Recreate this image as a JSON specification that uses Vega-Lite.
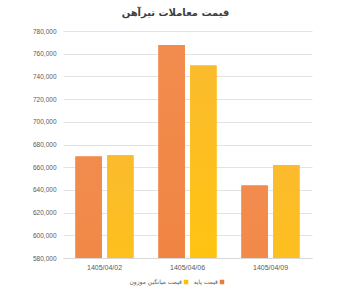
{
  "$schema": "https://vega.github.io/schema/vega-lite/v6.json",
  "autosize": "none",
  "width": 249,
  "height": 227,
  "padding": {"left": 63, "top": 31, "right": 38, "bottom": 39},
  "background": "white",
  "title": {
    "text": "قیمت معاملات تیرآهن",
    "font": "DejaVu Sans",
    "fontSize": 10,
    "fontWeight": "bold",
    "color": "#404040",
    "anchor": "middle",
    "dx": -12,
    "offset": 10
  },
  "data": {
    "values": [
      {"date": "1405/04/02", "series": "قیمت پایه", "price": 669400},
      {"date": "1405/04/02", "series": "قیمت میانگین موزون", "price": 670500},
      {"date": "1405/04/06", "series": "قیمت پایه", "price": 767600},
      {"date": "1405/04/06", "series": "قیمت میانگین موزون", "price": 749700},
      {"date": "1405/04/09", "series": "قیمت پایه", "price": 643800},
      {"date": "1405/04/09", "series": "قیمت میانگین موزون", "price": 662000}
    ]
  },
  "encoding": {
    "x": {
      "field": "date",
      "type": "nominal",
      "sort": null,
      "scale": {"paddingInner": 0.3, "paddingOuter": 0.15},
      "axis": {
        "title": null,
        "labelAngle": 0,
        "labelFont": "Liberation Sans",
        "labelFontSize": 7,
        "labelColor": "#595959",
        "labelPadding": 5,
        "ticks": false,
        "domainColor": "#d9d9d9",
        "grid": false
      }
    },
    "xOffset": {
      "field": "series",
      "type": "nominal",
      "sort": ["قیمت پایه", "قیمت میانگین موزون"],
      "scale": {"paddingInner": 0.17, "paddingOuter": 0}
    },
    "y": {
      "field": "price",
      "type": "quantitative",
      "scale": {"domain": [580000, 780000], "nice": false, "zero": false},
      "axis": {
        "title": null,
        "values": [580000, 600000, 620000, 640000, 660000, 680000, 700000, 720000, 740000, 760000, 780000],
        "format": ",d",
        "labelFont": "Liberation Sans",
        "labelFontSize": 6.5,
        "labelColor": "#595959",
        "labelPadding": 7,
        "ticks": false,
        "domain": false,
        "gridColor": "#e3e3e3",
        "gridWidth": 1
      }
    }
  },
  "layer": [
    {
      "mark": {"type": "bar", "clip": true},
      "encoding": {
        "color": {
          "field": "series",
          "type": "nominal",
          "scale": {
            "domain": ["قیمت میانگین موزون", "قیمت پایه"],
            "range": ["#FDC000", "#EE7B30"]
          },
          "legend": {
            "title": null,
            "orient": "none",
            "direction": "horizontal",
            "legendX": 120,
            "legendY": 248,
            "symbolType": "square",
            "symbolSize": 20,
            "symbolStrokeWidth": 0,
            "labelFont": "DejaVu Sans",
            "labelFontSize": 6,
            "labelColor": "#595959",
            "labelAlign": "right",
            "labelOffset": -7,
            "columnPadding": 4
          }
        }
      }
    },
    {
      "transform": [{"filter": "datum.series === 'قیمت پایه'"}],
      "mark": {
        "type": "bar",
        "clip": true,
        "fill": {"gradient": "linear", "x1": 0, "y1": 0, "x2": 0, "y2": 1, "stops": [{"offset": 0, "color": "#F28C4E"}, {"offset": 1, "color": "#E96E1E"}]}
      }
    },
    {
      "transform": [{"filter": "datum.series === 'قیمت میانگین موزون'"}],
      "mark": {
        "type": "bar",
        "clip": true,
        "fill": {"gradient": "linear", "x1": 0, "y1": 0, "x2": 0, "y2": 1, "stops": [{"offset": 0, "color": "#FBBB2E"}, {"offset": 0.3, "color": "#FFC608"}, {"offset": 1, "color": "#EFB400"}]}
      }
    }
  ],
  "config": {"view": {"stroke": null}}
}
